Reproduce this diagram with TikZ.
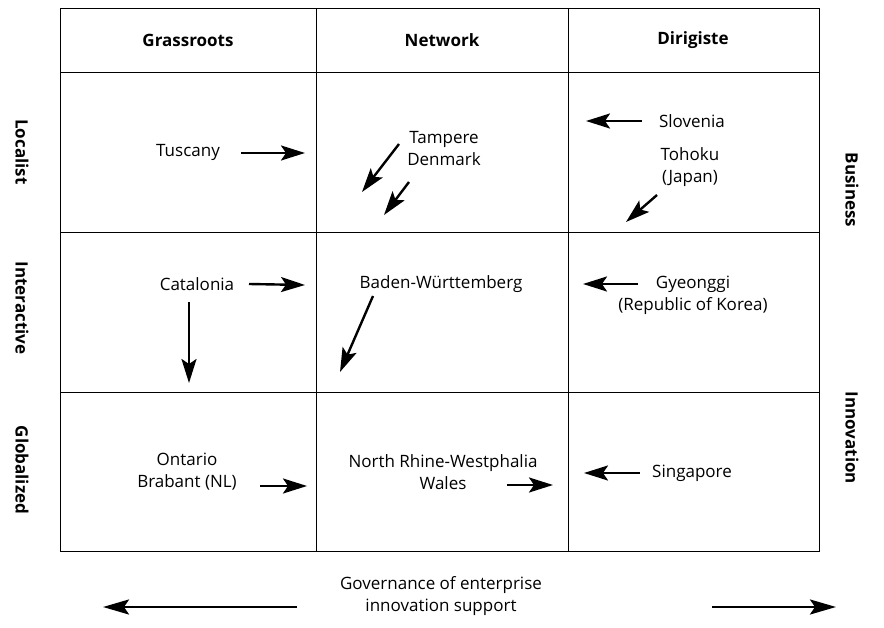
\documentclass[tikz,border=0pt]{standalone}
\usepackage{fontspec}
\setmainfont{Open Sans}
\usetikzlibrary{arrows.meta}
\begin{document}
\begin{tikzpicture}[x=1pt,y=-1pt,
  grid/.style={line width=0.9pt},
  lbl/.style={font=\fontsize{17}{22}\selectfont, align=center, inner sep=0pt},
  hdr/.style={font=\fontsize{17}{20}\selectfont\bfseries, inner sep=0pt},
  side/.style={font=\fontsize{17}{20}\selectfont\bfseries, inner sep=0pt, rotate=-90},
  arr/.style={line width=2.4pt, -{Stealth[length=24pt,width=15pt,inset=5pt]}},
  bigarr/.style={line width=2.6pt, -{Stealth[length=26pt,width=15pt,inset=5pt]}}]
\useasboundingbox (0,0) rectangle (884,628);
% grid
\draw[grid] (60,8) rectangle (819,551);
\draw[grid] (60,72) -- (819,72);
\draw[grid] (60,232) -- (819,232);
\draw[grid] (60,392) -- (819,392);
\draw[grid] (316,8) -- (316,551);
\draw[grid] (568,8) -- (568,551);
% headers
\node[hdr] (h1) at (188,40) {Grassroots};
\node[hdr] (h2) at (442,40) {Network};
\node[hdr] (h3) at (693,40) {Dirigiste};
% side labels
\node[side] (l1) at (22,152) {Localist};
\node[side] (l2) at (22,308) {Interactive};
\node[side] (l3) at (22,470) {Globalized};
\node[side] (r1) at (852,190) {Business};
\node[side] (r2) at (852,438) {Innovation};
% row 1
\node[lbl] (tus) at (188,152) {Tuscany};
\coordinate (tusA) at (241,153); \coordinate (tusB) at (305,153);
\draw[arr] (tusA) -- (tusB);
\node[lbl] (tam) at (444,149) {Tampere\\Denmark};
\coordinate (tamA) at (399,144); \coordinate (tamB) at (362,192);
\coordinate (denA) at (409,182); \coordinate (denB) at (384,215);
\draw[arr] (tamA) -- (tamB);
\draw[arr] (denA) -- (denB);
\node[lbl] (slo) at (692,121) {Slovenia};
\coordinate (sloA) at (642,121); \coordinate (sloB) at (586,121);
\draw[arr] (sloA) -- (sloB);
\node[lbl] (toh) at (690,167) {Tohoku\\(Japan)};
\coordinate (tohA) at (657,195); \coordinate (tohB) at (626,222);
\draw[arr] (tohA) -- (tohB);
% row 2
\node[lbl] (cat) at (197,284) {Catalonia};
\coordinate (catA) at (249,284); \coordinate (catB) at (305,285);
\draw[arr] (catA) -- (catB);
\coordinate (catC) at (189,302); \coordinate (catD) at (189,383);
\draw[arr] (catC) -- (catD);
\node[lbl] (bad) at (441,284) {Baden-Württemberg};
\coordinate (badA) at (373,296); \coordinate (badB) at (340,372);
\draw[arr] (badA) -- (badB);
\node[lbl] (gye) at (693,295) {Gyeonggi\\(Republic of Korea)};
\coordinate (gyeA) at (638,284); \coordinate (gyeB) at (583,284);
\draw[arr] (gyeA) -- (gyeB);
% row 3
\node[lbl] (ont) at (187,472) {Ontario\\Brabant (NL)};
\coordinate (ontA) at (260,486); \coordinate (ontB) at (307,486);
\draw[arr] (ontA) -- (ontB);
\node[lbl] (nrw) at (443,472) {North Rhine-Westphalia\\Wales};
\coordinate (nrwA) at (507,485); \coordinate (nrwB) at (553,485);
\draw[arr] (nrwA) -- (nrwB);
\node[lbl] (sin) at (692,473) {Singapore};
\coordinate (sinA) at (640,473); \coordinate (sinB) at (584,473);
\draw[arr] (sinA) -- (sinB);
% bottom
\node[lbl] (gov) at (441,596) {Governance of enterprise\\innovation support};
\coordinate (lA) at (297,607); \coordinate (lB) at (103,607);
\coordinate (rA) at (712,607); \coordinate (rB) at (836,607);
\draw[bigarr] (lA) -- (lB);
\draw[bigarr] (rA) -- (rB);
\end{tikzpicture}
\end{document}
